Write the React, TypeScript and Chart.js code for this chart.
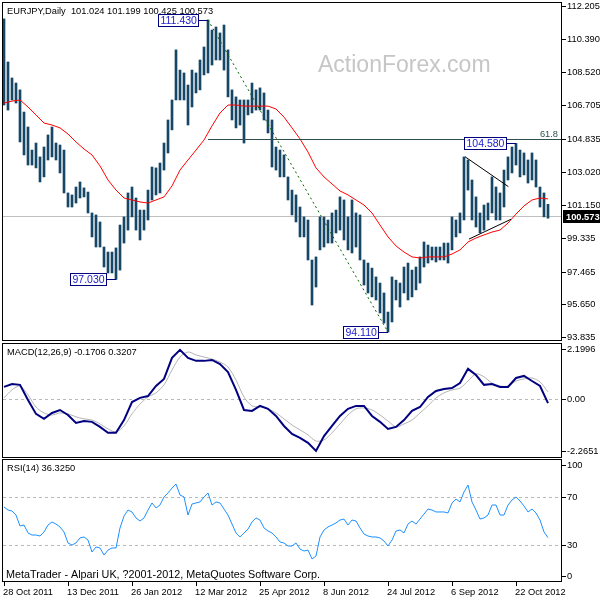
import React, { useEffect, useRef } from 'react';
import { Chart, registerables } from 'chart.js';

Chart.register(...registerables);

const FONT = '"Liberation Sans", Arial, sans-serif';
const SMALL = `9.3px ${FONT}`;

// ---------------- texts ----------------
const symbolTitle = 'EURJPY,Daily  101.024 101.199 100.425 100.573';
const macdTitle = 'MACD(12,26,9) -0.1706 0.3207';
const rsiTitle = 'RSI(14) 36.3250';
const footerText = 'MetaTrader - Alpari UK, ?2001-2012, MetaQuotes Software Corp.';
const watermark = 'ActionForex.com';

// ---------------- x axis (each bar index = 2 trading days) ----------------
const dateLabels = ['28 Oct 2011', '13 Dec 2011', '26 Jan 2012', '12 Mar 2012', '25 Apr 2012', '8 Jun 2012', '24 Jul 2012', '6 Sep 2012', '22 Oct 2012'];
const dateIdx = [0, 16, 32, 48, 64, 80, 96, 112, 128];

// ---------------- price bars ----------------
const highs = [
  111.49, 109.10, 108.21, 107.93, 107.55, 106.32, 105.49, 104.21, 104.60, 103.83,
  104.38, 105.05, 105.49, 104.60, 104.49, 104.21, 101.83, 101.72, 102.16, 102.44,
  102.11, 101.88, 100.72, 100.61, 100.22, 98.83, 98.55, 98.55, 98.78, 100.05,
  100.50, 101.83, 102.16, 101.55, 100.88, 100.88, 101.99, 103.27, 103.22, 103.49,
  104.60, 105.88, 106.99, 109.77, 108.65, 108.49, 107.82, 108.65, 108.49, 109.21,
  109.93, 111.43, 110.87, 111.04, 110.71, 111.15, 109.77, 107.55, 107.16, 106.99,
  106.99, 106.99, 107.93, 107.55, 107.66, 107.38, 106.43, 105.88, 104.38, 104.21,
  103.94, 102.72, 101.99, 101.72, 101.05, 100.50, 100.33, 98.11, 98.28, 100.50,
  100.50, 100.33, 100.72, 100.88, 101.61, 101.44, 100.50, 101.44, 100.72, 100.61,
  98.11, 97.94, 97.66, 97.17, 96.83, 96.28, 95.22, 97.17, 96.99, 96.83,
  97.72, 97.94, 97.55, 97.72, 98.28, 99.11, 98.94, 98.83, 98.83, 98.83,
  99.05, 99.05, 100.50, 100.33, 100.72, 103.83, 103.66, 102.55, 101.61, 100.72,
  101.16, 101.27, 102.72, 102.16, 101.83, 103.10, 103.83, 104.38, 104.58, 104.21,
  104.05, 103.66, 104.05, 103.66, 102.16, 101.83, 101.20,
];
const lows = [
  106.71, 106.43, 106.99, 106.82, 104.66, 103.94, 103.38, 103.38, 103.22, 102.44,
  102.72, 103.66, 103.83, 103.66, 102.94, 101.83, 101.05, 101.05, 101.27, 101.55,
  101.61, 100.72, 99.39, 98.83, 98.83, 97.72, 97.39, 97.39, 97.03, 97.55,
  99.05, 99.77, 100.50, 99.77, 99.22, 99.77, 100.33, 101.44, 101.72, 101.83,
  103.10, 104.05, 105.33, 106.99, 106.99, 106.99, 105.60, 106.60, 107.38, 107.55,
  108.38, 108.49, 108.93, 109.21, 109.21, 108.65, 107.16, 105.88, 105.44, 105.60,
  104.60, 106.16, 106.27, 106.43, 106.43, 105.88, 105.16, 103.27, 103.10, 102.72,
  102.72, 101.44, 100.61, 100.22, 99.39, 99.39, 98.11, 95.61, 96.61, 98.67,
  98.83, 99.05, 99.05, 99.61, 99.77, 99.22, 98.67, 98.50, 98.83, 98.11,
  96.72, 96.28, 96.06, 95.89, 95.17, 94.61, 94.11, 94.67, 95.89, 95.50,
  96.28, 95.89, 96.06, 96.45, 96.83, 97.72, 97.94, 98.11, 98.00, 98.11,
  98.11, 97.94, 98.67, 99.39, 99.61, 100.33, 101.99, 100.33, 99.94, 99.61,
  99.77, 100.33, 100.72, 100.33, 100.33, 101.05, 102.55, 102.94, 103.38, 102.72,
  102.83, 102.38, 102.55, 102.16, 101.05, 100.50, 100.43,
];

// moving average / MACD sampled every 2 bar indices
const SAMPLE_STEP = 2;
const maValues = [
  106.82, 106.93, 106.99, 106.60, 106.16, 105.71, 105.60, 105.44, 105.10, 104.66,
  104.27, 103.94, 103.33, 102.55, 101.99, 101.55, 101.44, 101.33, 101.27, 101.44,
  101.61, 102.22, 103.10, 103.66, 104.21, 104.77, 105.55, 106.27, 106.71, 106.71,
  106.65, 106.65, 106.65, 106.65, 106.49, 106.04, 105.44, 104.83, 104.10, 103.22,
  102.72, 102.33, 101.94, 101.72, 101.44, 101.16, 100.72, 100.05, 99.39, 98.89,
  98.55, 98.28, 98.22, 98.28, 98.28, 98.28, 98.44, 98.67, 99.11, 99.33,
  99.50, 99.66, 99.77, 100.16, 100.66, 101.11, 101.44, 101.55, 101.50,
];
const macdMain = [
  0.54, 0.67, 0.63, -0.03, -0.64, -0.86, -0.60, -0.47, -0.69, -1.04,
  -0.95, -0.99, -1.21, -1.47, -1.47, -0.91, -0.12, 0.06, 0.14, 0.58,
  0.89, 1.81, 2.16, 1.81, 1.68, 1.68, 1.72, 1.54, 1.19, 0.41,
  -0.47, -0.51, -0.29, -0.42, -0.73, -1.17, -1.52, -1.69, -1.91, -2.26,
  -1.61, -1.17, -0.73, -0.42, -0.29, -0.29, -0.73, -0.99, -1.30, -1.21,
  -0.91, -0.51, -0.34, 0.10, 0.36, 0.45, 0.49, 0.71, 1.33, 1.06,
  0.63, 0.67, 0.54, 0.54, 0.93, 1.02, 0.80, 0.58, -0.17,
];
const macdSignal = [
  0.06, 0.41, 0.58, 0.19, -0.34, -0.60, -0.69, -0.60, -0.64, -0.77,
  -0.86, -0.91, -1.08, -1.30, -1.43, -1.17, -0.64, -0.21, 0.10, 0.28,
  0.63, 1.28, 1.85, 2.07, 1.94, 1.85, 1.76, 1.63, 1.41, 0.84,
  0.10, -0.29, -0.34, -0.42, -0.60, -0.86, -1.13, -1.34, -1.56, -1.83,
  -1.78, -1.47, -1.08, -0.69, -0.42, -0.38, -0.47, -0.69, -0.95, -1.21,
  -1.08, -0.91, -0.60, -0.29, 0.06, 0.28, 0.41, 0.49, 0.80, 1.11,
  0.98, 0.71, 0.58, 0.58, 0.80, 0.89, 0.93, 0.76, 0.32,
];
// RSI per bar index
const rsiValues = [
  61.5, 59.0, 58.2, 54.9, 45.9, 46.7, 40.2, 38.5, 38.5, 37.7,
  41.0, 46.7, 49.2, 47.5, 45.1, 41.0, 32.0, 30.3, 32.0, 36.1,
  36.9, 34.4, 24.6, 28.7, 27.9, 22.1, 26.2, 27.9, 27.9, 44.3,
  54.1, 59.0, 57.4, 52.5, 50.0, 52.5, 59.0, 64.8, 60.7, 63.1,
  69.7, 73.0, 77.0, 80.3, 71.3, 69.7, 54.9, 63.9, 64.8, 65.6,
  69.7, 73.0, 63.1, 65.6, 64.8, 59.8, 54.9, 47.5, 40.2, 36.9,
  40.2, 43.4, 49.2, 52.5, 50.8, 44.3, 41.8, 40.2, 36.9, 32.8,
  32.0, 29.5, 29.5, 32.0, 27.0, 25.4, 26.2, 18.9, 21.3, 36.9,
  42.6, 45.1, 46.7, 48.4, 50.8, 51.6, 46.7, 50.8, 50.0, 44.3,
  39.3, 37.7, 36.9, 36.9, 36.1, 33.6, 29.5, 34.4, 41.8, 42.6,
  40.2, 47.5, 50.0, 47.5, 51.6, 55.7, 59.8, 59.0, 57.4, 57.4,
  57.4, 56.6, 64.8, 68.0, 65.6, 73.8, 79.5, 65.6, 59.0, 51.6,
  52.5, 54.9, 63.1, 63.1, 54.9, 54.9, 63.1, 67.2, 69.7, 66.4,
  62.3, 57.4, 59.8, 56.6, 50.8, 41.0, 36.3,
];

// ---------------- axes ----------------
const priceTicks = [112.205, 110.390, 108.520, 106.705, 104.835, 103.020, 101.150, 99.335, 97.465, 95.650, 93.835];
const macdTicks = [2.1996, 0, -2.2651];
const macdTickLabels = ['2.1996', '0.00', '-2.2651'];
const rsiTicks = [100, 70, 30, 0];
const rsiLevels = [70, 30];
const lastPrice = 100.573;
const lastPriceLabel = '100.573';

// ---------------- annotations (data space) ----------------
const fibLevel = 104.81;
const fibLabel = '61.8';
const fibStartIdx = 51;
const extremeTags = [
  { idx: 51, price: 111.43, text: '111.430' },
  { idx: 28, price: 97.03, text: '97.030' },
  { idx: 96, price: 94.11, text: '94.110' },
  { idx: 128, price: 104.58, text: '104.580' },
];
const trendIdx = [51, 96];
const trendPrice = [111.43, 94.11];
const triUpperIdx = [115.25, 126.1];
const triUpperPrice = [103.84, 102.18];
const triLowerIdx = [116.25, 126.75];
const triLowerPrice = [99.27, 100.37];

// ---------------- ranges ----------------
const X_MIN = -0.5;
const X_MAX = 139.5;
const PRICE_MIN = 93.614;
const PRICE_MAX = 112.427;
const MACD_MIN = -2.5715;
const MACD_MAX = 2.4622;
const RSI_MIN = 0;
const RSI_MAX = 100.82;

const BAR_COLOR = '#174766';

function baseOptions(yMin: number, yMax: number, padding: any) {
  return {
    animation: false,
    responsive: false,
    maintainAspectRatio: false,
    devicePixelRatio: 1,
    events: [],
    layout: { padding },
    plugins: { legend: { display: false }, tooltip: { enabled: false }, title: { display: false } },
    scales: {
      x: { type: 'linear', min: X_MIN, max: X_MAX, display: false, offset: false },
      y: { type: 'linear', min: yMin, max: yMax, display: false, beginAtZero: false },
    },
  } as any;
}

function drawBorder(chart: any) {
  const { ctx, chartArea: a } = chart;
  ctx.save();
  ctx.strokeStyle = '#000';
  ctx.lineWidth = 1;
  ctx.strokeRect(a.left + 0.5, a.top + 0.5, a.right - a.left - 1, a.bottom - a.top - 1);
  ctx.restore();
}

function drawRightLabels(chart: any, values: number[], texts: string[], clamp: number) {
  const { ctx, chartArea: a, scales } = chart;
  ctx.save();
  ctx.font = SMALL;
  ctx.fillStyle = '#000';
  ctx.strokeStyle = '#000';
  ctx.lineWidth = 1;
  ctx.textAlign = 'left';
  ctx.textBaseline = 'middle';
  values.forEach((v, i) => {
    const py = scales.y.getPixelForValue(v);
    const ty = Math.min(Math.max(py, a.top + clamp), a.bottom - clamp);
    const ry = Math.round(ty) + 0.5;
    ctx.beginPath();
    ctx.moveTo(a.right, ry);
    ctx.lineTo(a.right + 4, ry);
    ctx.stroke();
    ctx.fillText(texts[i], a.right + 5, ty + 0.5);
  });
  ctx.restore();
}

function drawTitle(chart: any, text: string) {
  const { ctx, chartArea: a } = chart;
  ctx.save();
  ctx.font = SMALL;
  ctx.fillStyle = '#000';
  ctx.textAlign = 'left';
  ctx.textBaseline = 'middle';
  ctx.fillText(text, a.left + 5, a.top + 9);
  ctx.restore();
}

function drawLevel(chart: any, v: number) {
  const { ctx, chartArea: a, scales } = chart;
  const y = Math.round(scales.y.getPixelForValue(v)) + 0.5;
  ctx.save();
  ctx.strokeStyle = '#b8b8b8';
  ctx.lineWidth = 1;
  ctx.setLineDash([3, 3]);
  ctx.beginPath();
  ctx.moveTo(a.left + 1, y);
  ctx.lineTo(a.right - 1, y);
  ctx.stroke();
  ctx.restore();
}

function segment(chart: any, i0: number, p0: number, i1: number, p1: number, color: string, dash: number[]) {
  const { ctx, scales } = chart;
  ctx.save();
  ctx.strokeStyle = color;
  ctx.lineWidth = 1;
  ctx.setLineDash(dash);
  ctx.beginPath();
  ctx.moveTo(scales.x.getPixelForValue(i0), scales.y.getPixelForValue(p0));
  ctx.lineTo(scales.x.getPixelForValue(i1), scales.y.getPixelForValue(p1));
  ctx.stroke();
  ctx.restore();
}

function drawTag(chart: any, idx: number, price: number, text: string) {
  const { ctx, scales } = chart;
  const px = Math.round(scales.x.getPixelForValue(idx));
  const py = Math.round(scales.y.getPixelForValue(price));
  ctx.save();
  ctx.font = `10.5px ${FONT}`;
  const w = Math.round(ctx.measureText(text).width) + 5;
  const h = 13;
  const right = px - 9;
  const left = right - w;
  const top = py - 6;
  ctx.fillStyle = '#fff';
  ctx.fillRect(left, top, w, h);
  ctx.strokeStyle = '#000080';
  ctx.lineWidth = 1;
  ctx.strokeRect(left + 0.5, top + 0.5, w - 1, h - 1);
  ctx.beginPath();
  ctx.moveTo(right, py + 0.5);
  ctx.lineTo(px, py + 0.5);
  ctx.stroke();
  ctx.fillStyle = '#2020d0';
  ctx.textAlign = 'left';
  ctx.textBaseline = 'middle';
  ctx.fillText(text, left + 2.5, top + h / 2 + 0.5);
  ctx.restore();
}

function makeMain(canvas: HTMLCanvasElement) {
  const barData = highs.map((h, i) => ({ x: i, y: [lows[i], h] }));
  const maData = maValues.map((v, j) => ({ x: j * SAMPLE_STEP, y: v }));
  const plugin = {
    id: 'mainDecor',
    beforeDatasetsDraw(chart: any) {
      const { ctx, chartArea: a, scales } = chart;
      ctx.save();
      ctx.font = `23px ${FONT}`;
      ctx.fillStyle = '#c6c6c6';
      ctx.textAlign = 'left';
      ctx.textBaseline = 'alphabetic';
      ctx.fillText(watermark, a.left + 316, a.top + 70);
      const y = Math.round(scales.y.getPixelForValue(lastPrice)) + 0.5;
      ctx.strokeStyle = '#c0c0c0';
      ctx.lineWidth = 1;
      ctx.beginPath();
      ctx.moveTo(a.left, y);
      ctx.lineTo(a.right, y);
      ctx.stroke();
      ctx.restore();
    },
    afterDraw(chart: any) {
      const { ctx, chartArea: a, scales } = chart;
      // fib 61.8 level
      const fy = Math.round(scales.y.getPixelForValue(fibLevel)) + 0.5;
      ctx.save();
      ctx.strokeStyle = '#2f4f4f';
      ctx.lineWidth = 1;
      ctx.beginPath();
      ctx.moveTo(scales.x.getPixelForValue(fibStartIdx), fy);
      ctx.lineTo(a.right, fy);
      ctx.stroke();
      ctx.font = SMALL;
      ctx.fillStyle = '#2f4f4f';
      ctx.textAlign = 'right';
      ctx.textBaseline = 'alphabetic';
      ctx.fillText(fibLabel, a.right - 4, fy - 3);
      ctx.restore();
      segment(chart, trendIdx[0], trendPrice[0], trendIdx[1], trendPrice[1], '#006400', [2, 3]);
      segment(chart, triUpperIdx[0], triUpperPrice[0], triUpperIdx[1], triUpperPrice[1], '#000', []);
      segment(chart, triLowerIdx[0], triLowerPrice[0], triLowerIdx[1], triLowerPrice[1], '#000', []);
      extremeTags.forEach((t) => drawTag(chart, t.idx, t.price, t.text));
      drawBorder(chart);
      drawTitle(chart, symbolTitle);
      drawRightLabels(chart, priceTicks, priceTicks.map((v) => v.toFixed(3)), 3);
      // current price box
      const cy = Math.round(scales.y.getPixelForValue(lastPrice));
      ctx.save();
      ctx.fillStyle = '#000';
      ctx.fillRect(a.right + 1, cy - 6, 40, 13);
      ctx.fillStyle = '#fff';
      ctx.font = `bold 9.3px ${FONT}`;
      ctx.textAlign = 'left';
      ctx.textBaseline = 'middle';
      ctx.fillText(lastPriceLabel, a.right + 4, cy + 1);
      ctx.restore();
    },
  };
  return new Chart(canvas, {
    type: 'bar',
    data: {
      datasets: [
        { type: 'line', data: maData, borderColor: '#ff0000', borderWidth: 1, pointRadius: 0, tension: 0, order: 0 } as any,
        { type: 'bar', data: barData as any, backgroundColor: BAR_COLOR, borderWidth: 0, barThickness: 2, order: 1 } as any,
      ],
    },
    options: baseOptions(PRICE_MIN, PRICE_MAX, { left: 2, top: 2, right: 38, bottom: 0 }),
    plugins: [plugin],
  });
}

function makeMacd(canvas: HTMLCanvasElement) {
  const mainData = macdMain.map((v, j) => ({ x: j * SAMPLE_STEP, y: v }));
  const sigData = macdSignal.map((v, j) => ({ x: j * SAMPLE_STEP, y: v }));
  const plugin = {
    id: 'macdDecor',
    beforeDatasetsDraw(chart: any) {
      drawLevel(chart, 0);
    },
    afterDraw(chart: any) {
      drawBorder(chart);
      drawTitle(chart, macdTitle);
      drawRightLabels(chart, macdTicks, macdTickLabels, 3);
    },
  };
  return new Chart(canvas, {
    type: 'line',
    data: {
      datasets: [
        { data: mainData, borderColor: '#000080', borderWidth: 2, pointRadius: 0, tension: 0, order: 0 } as any,
        { data: sigData, borderColor: '#b4b4b4', borderWidth: 1, pointRadius: 0, tension: 0.3, order: 1 } as any,
      ],
    },
    options: baseOptions(MACD_MIN, MACD_MAX, { left: 2, top: 2, right: 38, bottom: 0 }),
    plugins: [plugin],
  });
}

function makeRsi(canvas: HTMLCanvasElement) {
  const data = rsiValues.map((v, i) => ({ x: i, y: v }));
  const plugin = {
    id: 'rsiDecor',
    beforeDatasetsDraw(chart: any) {
      rsiLevels.forEach((l) => drawLevel(chart, l));
    },
    afterDraw(chart: any) {
      const { ctx, chartArea: a, scales } = chart;
      drawBorder(chart);
      drawTitle(chart, rsiTitle);
      drawRightLabels(chart, rsiTicks, rsiTicks.map((v) => String(v)), 6);
      ctx.save();
      ctx.font = `10.8px ${FONT}`;
      ctx.fillStyle = '#000';
      ctx.textAlign = 'left';
      ctx.textBaseline = 'middle';
      ctx.fillText(footerText, a.left + 4, a.bottom - 7);
      ctx.font = SMALL;
      ctx.strokeStyle = '#000';
      ctx.lineWidth = 1;
      dateIdx.forEach((idx, i) => {
        const px = Math.round(scales.x.getPixelForValue(idx)) + 0.5;
        ctx.beginPath();
        ctx.moveTo(px, a.bottom);
        ctx.lineTo(px, a.bottom + 4);
        ctx.stroke();
        ctx.fillText(dateLabels[i], px - 1.5, a.bottom + 10.5);
      });
      ctx.restore();
    },
  };
  return new Chart(canvas, {
    type: 'line',
    data: {
      datasets: [
        { data, borderColor: '#1e90ff', borderWidth: 1, pointRadius: 0, tension: 0 } as any,
      ],
    },
    options: baseOptions(RSI_MIN, RSI_MAX, { left: 2, top: 1, right: 38, bottom: 18 }),
    plugins: [plugin],
  });
}

export default function App() {
  const mainRef = useRef<HTMLCanvasElement>(null);
  const macdRef = useRef<HTMLCanvasElement>(null);
  const rsiRef = useRef<HTMLCanvasElement>(null);

  useEffect(() => {
    const charts = [
      makeMain(mainRef.current as HTMLCanvasElement),
      makeMacd(macdRef.current as HTMLCanvasElement),
      makeRsi(rsiRef.current as HTMLCanvasElement),
    ];
    return () => charts.forEach((c) => c.destroy());
  }, []);

  const cStyle = (top: number, h: number): React.CSSProperties => ({
    position: 'absolute', left: 0, top, width: 600, height: h, display: 'block',
  });

  return (
    <div style={{ position: 'fixed', left: 0, top: 0, width: 600, height: 600, background: '#fff', overflow: 'hidden' }}>
      <canvas ref={mainRef} width={600} height={341} style={cStyle(0, 341)} />
      <canvas ref={macdRef} width={600} height={117} style={cStyle(341, 117)} />
      <canvas ref={rsiRef} width={600} height={142} style={cStyle(458, 142)} />
    </div>
  );
}
